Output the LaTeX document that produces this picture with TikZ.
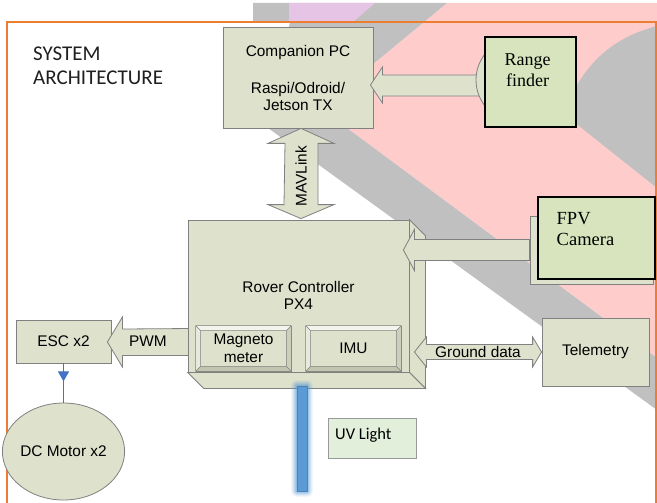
\documentclass[tikz,border=0pt]{standalone}
\usepackage{fontspec}
\setmainfont{Liberation Sans}
\newfontfamily\rmserif{Liberation Serif}
\newfontfamily\calibfont{Carlito}
\usetikzlibrary{calc,decorations.markings,arrows.meta,shapes.geometric}
\pgfdeclarelayer{back}
\pgfdeclarelayer{under}
\pgfdeclarelayer{front}
\pgfsetlayers{back,under,main,front}
\definecolor{boxfill}{HTML}{DEE1CC}
\definecolor{linegray}{HTML}{808080}
\definecolor{rffill}{HTML}{D7E4BD}
\definecolor{bgpink}{HTML}{FFCCCC}
\definecolor{bggray}{HTML}{C0C0C0}
\definecolor{bgpurple}{HTML}{E6C4E6}
\definecolor{frameorange}{HTML}{ED7D31}
\definecolor{uvfill}{HTML}{E2EFDA}
\definecolor{barblue}{HTML}{5B9BD5}
\definecolor{connblue}{HTML}{4472C4}
\definecolor{bevlight}{HTML}{F3F4EC}
\definecolor{bevmid}{HTML}{E8E9DC}
\definecolor{bevdark}{HTML}{C2C4B0}
\definecolor{bevright}{HTML}{CDCFBC}
\newcommand\artxt{\fontsize{15.4}{16.5}\selectfont}
\newcommand\mybevel[1]{%
  \fill[bevlight] (#1.north west) -- (#1.north east) -- ($(#1.north east)+(-5,5)$) -- ($(#1.north west)+(5,5)$) -- cycle;
  \fill[bevmid] (#1.north west) -- ($(#1.north west)+(5,5)$) -- ($(#1.south west)+(5,-5)$) -- (#1.south west) -- cycle;
  \fill[bevdark] (#1.south west) -- ($(#1.south west)+(5,-5)$) -- ($(#1.south east)+(-5,-5)$) -- (#1.south east) -- cycle;
  \fill[bevright] (#1.north east) -- (#1.south east) -- ($(#1.south east)+(-5,-5)$) -- ($(#1.north east)+(-5,5)$) -- cycle;
  \draw[linegray, line width=0.6pt] (#1.north west) rectangle (#1.south east)
     ($(#1.north west)+(5,5)$) rectangle ($(#1.south east)+(-5,-5)$)
     (#1.north west) -- ++(5,5) (#1.north east) -- ++(-5,5)
     (#1.south west) -- ++(5,-5) (#1.south east) -- ++(-5,-5);
}
\tikzset{
  boxs/.style={draw=linegray, fill=boxfill, line width=0.8pt, inner sep=0pt, font=\artxt},
  thickbox/.style={draw=black, fill=rffill, line width=2.2pt, inner sep=0pt},
  barrow/.style={draw=linegray, fill=boxfill, line width=0.8pt, line join=miter},
  lbl/.style={inner sep=0pt, font=\artxt},
  titletxt/.style={inner sep=0pt, font=\calibfont\fontsize{21}{24}\selectfont, text=black!88},
  serifbig/.style={inner sep=0pt, font=\rmserif\fontsize{18.5}{20.5}\selectfont},
}
\begin{document}
\begin{tikzpicture}[x=1pt,y=-1pt]
\useasboundingbox (0,0) rectangle (657,503);

% ---------- background ----------
\begin{pgfonlayer}{back}
\fill[bgpink] (447,3) -- (657,3) -- (657,358) -- (320,108) -- cycle;
\fill[bggray] (253,3) -- (447,3) -- (320,108) -- (657,358) -- (657,410) -- (268,128) -- (290,22) -- (253,22) -- cycle;
\fill[bgpurple] (289,3) -- (375,3) -- (353,22) -- (289,22) -- cycle;
\fill[bggray] (657,26) .. controls (615,37) and (582,62) .. (564,114) -- (657,188) -- cycle;
\draw[frameorange, line width=1.4pt] (7,22) rectangle (656,530);
\end{pgfonlayer}

% ---------- nodes under the arrows ----------
\begin{pgfonlayer}{under}
\node[boxs, minimum width=150pt, minimum height=101pt, align=center] (comp) at (298,77.5)
  {Companion PC\\[21pt]Raspi/Odroid/\\Jetson TX};
\node[boxs, minimum width=95pt, minimum height=43pt] (esc) at (63.5,341.5) {ESC x2};
\end{pgfonlayer}

% ---------- title ----------
\node[titletxt, anchor=base west] (title1) at (33,60.5) {SYSTEM};
\node[titletxt, anchor=base west] (title2) at (33,85) {ARCHITECTURE};

% ---------- rover controller ----------
\node[boxs, minimum width=221pt, minimum height=152pt] (rover) at (298.5,296) {};
\draw[boxs] (rover.north east) -- ++(16,16) -- ($(rover.south east)+(16,16)$) -- (rover.south east) -- cycle;
\draw[boxs] (rover.south west) -- (rover.south east) -- ++(16,16) -- ($(rover.south west)+(16,16)$) -- cycle;
\node[lbl, align=center, font=\fontsize{15.4}{17}\selectfont] (rovertxt) at (298.5,295) {Rover Controller\\PX4};

\node[boxs, minimum width=95pt, minimum height=45pt] (mag) at (243.5,348.5) {};
\mybevel{mag}
\node[lbl, align=center, font=\fontsize{15.4}{17.5}\selectfont] (magtxt) at (mag.center) {Magneto\\meter};
\node[boxs, minimum width=95pt, minimum height=45pt] (imu) at (353.5,348.5) {};
\mybevel{imu}
\node[lbl] (imutxt) at (imu.center) {IMU};

% ---------- range finder ----------
\node[boxs, circle, minimum size=84pt] (rfc) at (518,80) {};
\node[thickbox, minimum width=91pt, minimum height=90pt] (rf) at (530.5,82) {};
\node[serifbig, align=center, font=\rmserif\fontsize{18}{20.5}\selectfont] (rftxt) at (527.5,70) {Range\\finder};

% ---------- FPV camera ----------
\node[boxs, minimum width=123pt, minimum height=68pt] (fpvs) at (591.5,250) {};
\node[thickbox, minimum width=117pt, minimum height=82pt] (fpv) at (596.5,238) {};
\node[serifbig, align=left, anchor=west, font=\rmserif\fontsize{18.5}{21}\selectfont] (fpvtxt) at (556.5,229) {FPV\\Camera};

% ---------- telemetry ----------
\node[boxs, minimum width=107pt, minimum height=68pt] (tel) at (595.5,352) {Telemetry};

% ---------- UV light ----------
\node[draw=linegray!80, fill=uvfill, line width=0.8pt, minimum width=88pt, minimum height=40pt, inner sep=0pt] (uvl) at (372,438) {};
\node[inner sep=0pt, anchor=base west, font=\calibfont\fontsize{16.5}{18}\selectfont] (uvtxt) at (335,439.5) {UV Light};

\coordinate (uvc) at (302,438.5);
\foreach \e/\o in {6/0.08,5/0.10,4/0.13,3/0.17,2/0.22,1/0.3}{
  \fill[barblue, opacity=\o, rounded corners=\e pt] ($(uvc)+(-5-\e,-52.5-\e)$) rectangle ($(uvc)+(5+\e,52.5+\e)$);
}
\node[fill=barblue, draw=barblue!85!black, line width=0.4pt, minimum width=10pt, minimum height=105pt, inner sep=0pt] (uvbar) at (uvc) {};

% ---------- DC motor ----------
\node[boxs, ellipse, minimum width=105pt, minimum height=97pt] (motor) at (63.5,451.5) {DC Motor x2};

% ---------- block arrows under nodes ----------
\begin{pgfonlayer}{under}
% MAVLink
\coordinate (mt) at ($(comp.south)+(3,0)$);
\coordinate (mb) at ($(rover.north)+(2.5,-1)$);
\draw[barrow] (mt) -- ++(33,15) -- ++(-16,0) -- ($(mb)+(17,-14)$) -- ++(16,0) -- (mb)
  -- ++(-33,-14) -- ++(16,0) -- ($(mt)+(-16,15)$) -- ++(-17,0) -- cycle;
% range finder -> companion
\coordinate (rtip) at ($(comp.east)+(-3,7.5)$);
\draw[barrow] (rtip) -- ++(12,-18) -- ++(0,8) -- ($(rfc.center)+(0,-5)$) -- ++(0,21)
  -- ($(rtip)+(12,11)$) -- ++(0,7) -- cycle;
% PWM
\coordinate (ptip) at ($(esc.east)+(-4,0.5)$);
\draw[barrow] (ptip) -- ++(15,-25) -- ++(0,12) -- ($(rover.west |- ptip)+(6,-13.5)$) -- ++(0,27)
  -- ($(ptip)+(15,13.5)$) -- ++(0,11.5) -- cycle;
\end{pgfonlayer}

\node[lbl, rotate=90] (mavlbl) at ($(mt)!0.53!(mb)$) {MAVLink};
\node[lbl] (pwmlbl) at (148,341.5) {PWM};

% ---------- block arrows over nodes ----------
\begin{pgfonlayer}{front}
% FPV -> rover
\coordinate (ftip) at ($(rover.east |- fpvs.west)+(-6,0)$);
\draw[barrow] (ftip) -- ++(11,-20.5) -- ++(0,10) -- ($(fpvs.west)+(0,-10.5)$) -- ++(0,21)
  -- ($(ftip)+(11,10.5)$) -- ++(0,10) -- cycle;
% Ground data
\coordinate (gl) at ($(rover.east |- tel.west)+(5,0)$);
\draw[barrow] (gl) -- ++(12,-15) -- ++(0,7.5) -- ($(tel.west)+(-9,-7.5)$) -- ++(0,-7.5) -- (tel.west)
  -- ++(-9,15) -- ++(0,-7.5) -- ($(gl)+(12,7.5)$) -- ++(0,7.5) -- cycle;
\node[lbl] (glbl) at (478,351.5) {Ground data};
\end{pgfonlayer}

% ---------- ESC -> motor ----------
\draw[connblue, line width=1pt, postaction={decorate},
  decoration={markings, mark=at position 18pt with {\arrow{Triangle[width=11pt,length=10pt]}}}]
  (esc.south) -- (motor.north);

\end{tikzpicture}
\end{document}
